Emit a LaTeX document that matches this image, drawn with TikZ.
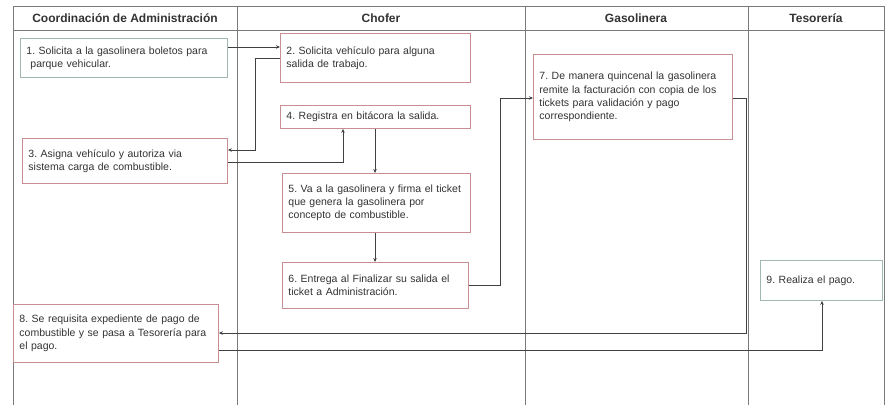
\documentclass[tikz,border=0pt]{standalone}
\usepackage{fontspec}
\setmainfont{Liberation Sans}
\usetikzlibrary{arrows.meta}
\definecolor{lane}{HTML}{7A7A7A}
\definecolor{redb}{HTML}{C98E92}
\definecolor{tealb}{HTML}{9FB9B2}
\definecolor{txt}{HTML}{333333}
\tikzset{
  stepbox/.style={draw=redb, line width=0.9pt, fill=white, rectangle, anchor=north west,
    align=left, inner xsep=6pt, inner ysep=3pt, font=\fontsize{10.5}{13.3}\selectfont\frenchspacing, text=txt},
  tealbox/.style={stepbox, draw=tealb, fill=white},
  lanehead/.style={font=\bfseries\fontsize{12}{13}\selectfont, text=txt},
  conn/.style={draw=black!75, line width=0.7pt, -{Stealth[length=4pt,width=3.5pt]}},
  laneline/.style={draw=lane, line width=1pt}
}
\begin{document}
\begin{tikzpicture}[x=1pt,y=-1pt]
\useasboundingbox (0,0) rectangle (885,407);
% lanes
\draw[laneline] (13,6) -- (884,6);
\draw[laneline] (13,30) -- (884,30);
\draw[laneline] (13,6) -- (13,405);
\draw[laneline] (237,6) -- (237,405);
\draw[laneline] (525,6) -- (525,405);
\draw[laneline] (748,6) -- (748,405);
\draw[laneline] (884,6) -- (884,405);
\node[lanehead] (h1) at (125,18) {Coordinación de Administración};
\node[lanehead] (h2) at (381,18) {Chofer};
\node[lanehead] (h3) at (636,18) {Gasolinera};
\node[lanehead] (h4) at (816,18) {Tesorería};
% boxes
\node[tealbox, text width=195pt, minimum height=39pt] (b1) at (20,38)
  {1. Solicita a la gasolinera boletos para\\\hspace*{4pt}parque vehicular.};
\node[stepbox, text width=178pt, minimum height=49pt] (b2) at (280,33)
  {2. Solicita vehículo para alguna\\salida de trabajo.};
\node[stepbox, text width=193pt, minimum height=45pt] (b3) at (22,138)
  {3. Asigna vehículo y autoriza via\\sistema carga de combustible.};
\node[stepbox, text width=178pt, minimum height=23pt] (b4) at (280,105)
  {4. Registra en bitácora la salida.};
\node[stepbox, text width=176pt, minimum height=59pt] (b5) at (282,173)
  {5. Va a la gasolinera y firma el ticket\\que genera la gasolinera por\\concepto de combustible.};
\node[stepbox, text width=174pt, minimum height=46pt] (b6) at (282,262)
  {6. Entrega al Finalizar su salida el\\ticket a Administración.};
\node[stepbox, text width=187pt, minimum height=85pt] (b7) at (533,54)
  {7. De manera quincenal la gasolinera\\remite la facturación con copia de los\\tickets para validación y pago\\correspondiente.};
\node[stepbox, text width=193pt, minimum height=58pt] (b8) at (13,304)
  {8. Se requisita expediente de pago de\\combustible y se pasa a Tesorería para\\el pago.};
\node[tealbox, text width=110pt, minimum height=40pt] (b9) at (760,260)
  {9. Realiza el pago.};
% connectors
\coordinate (c2a) at (255,58);
\coordinate (c2b) at (255,150);
\coordinate (c3a) at (343,162);
\coordinate (c6a) at (500,285);
\coordinate (c6b) at (500,98);
\coordinate (c7a) at (746,98);
\coordinate (c7b) at (746,333);
\coordinate (c8a) at (822,350);
\draw[conn] (b1.east |- 0,47) -- (b2.west |- 0,47);
\draw[conn] (b2.west |- c2a) -- (c2a) -- (c2b) -- (b3.east |- c2b);
\draw[conn] (b3.east |- c3a) -- (c3a) -- (c3a |- b4.south);
\draw[conn] (b4.south -| 375,0) -- (b5.north -| 375,0);
\draw[conn] (b5.south -| 375,0) -- (b6.north -| 375,0);
\draw[conn] (b6.east |- c6a) -- (c6a) -- (c6b) -- (b7.west |- c6b);
\draw[conn] (b7.east |- c7a) -- (c7a) -- (c7b) -- (b8.east |- c7b);
\draw[conn] (b8.east |- c8a) -- (c8a) -- (c8a |- b9.south);
\end{tikzpicture}
\end{document}
